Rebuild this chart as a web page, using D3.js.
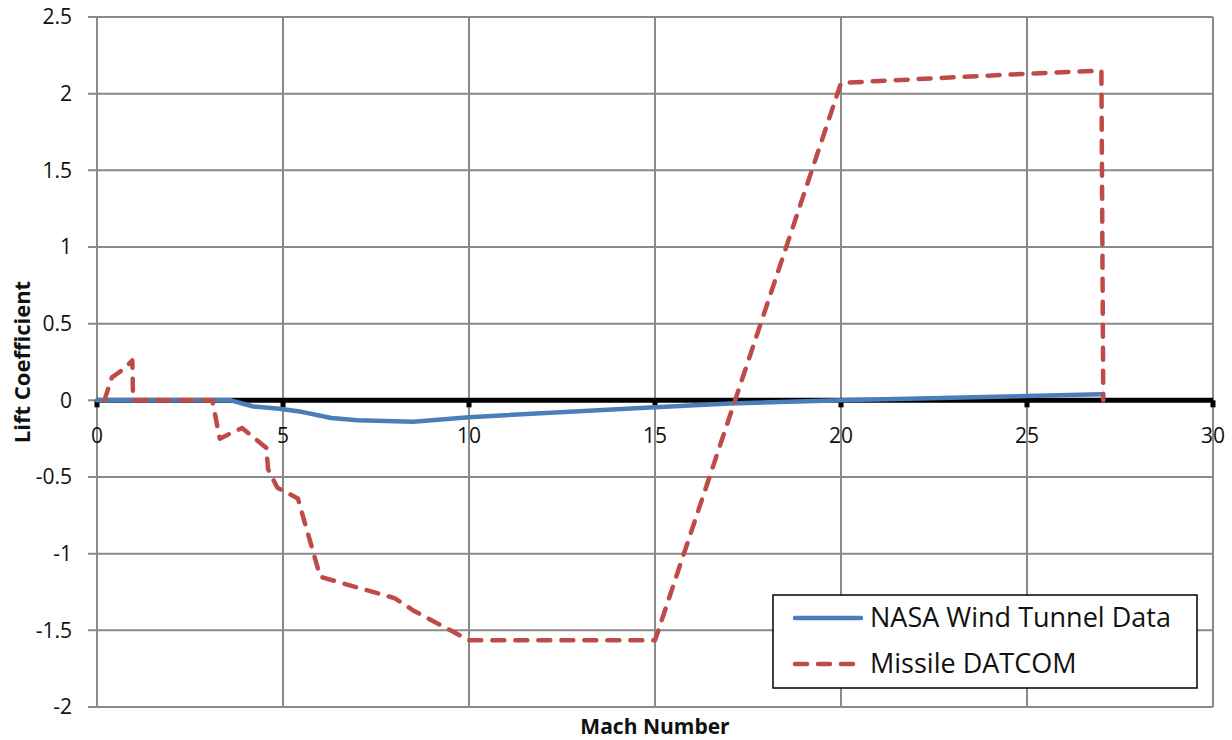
<!DOCTYPE html>
<html>
<head>
<meta charset="utf-8">
<script src="https://cdn.jsdelivr.net/npm/d3@7"></script>
<style>
  body { margin: 0; background: #fff; }
  svg { display: block; font-family: "Open Sans", "Liberation Sans", sans-serif; }
</style>
</head>
<body>
<div id="chart"></div>
<script>
// Mach number vs lift coefficient
const nasaMach = [0, 3.6, 4.2, 4.9, 5.5, 6.3, 7.0, 8.5, 10, 15, 17, 20, 27];
const nasaLift = [0, 0, -0.04, -0.055, -0.075, -0.115, -0.13, -0.14, -0.11, -0.045, -0.02, 0, 0.04];

const datcomMach = [0.2, 0.4, 0.7, 0.95, 0.97, 3.1, 3.3, 3.9, 4.55, 4.6, 4.85, 5.4, 6.0, 6.7, 8.0, 8.5, 10, 15, 20, 25, 27, 27.05];
const datcomLift = [0, 0.15, 0.2, 0.26, 0, 0, -0.25, -0.18, -0.31, -0.45, -0.57, -0.64, -1.15, -1.2, -1.29, -1.37, -1.565, -1.565, 2.07, 2.13, 2.15, 0];

const xTicks = [0, 5, 10, 15, 20, 25, 30];
const yTicks = [-2, -1.5, -1, -0.5, 0, 0.5, 1, 1.5, 2, 2.5];

const seriesNames = ['NASA Wind Tunnel Data', 'Missile DATCOM'];

const width = 1232, height = 740;
const margin = {top: 17, right: 19, bottom: 33, left: 97};
const w = width - margin.left - margin.right;
const h = height - margin.top - margin.bottom;

const svg = d3.select('#chart').append('svg')
    .attr('width', width)
    .attr('height', height);

const g = svg.append('g')
    .attr('transform', 'translate(' + margin.left + ',' + margin.top + ')');

const x = d3.scaleLinear().domain([0, 30]).range([0, w]);
const y = d3.scaleLinear().domain([-2, 2.5]).range([h, 0]);

// gridlines
g.append('g')
    .selectAll('line')
    .data(yTicks)
    .join('line')
    .attr('x1', -9).attr('x2', w)
    .attr('y1', d => y(d)).attr('y2', d => y(d))
    .attr('stroke', '#8a8a8a')
    .attr('stroke-width', 2);

g.append('g')
    .selectAll('line')
    .data(xTicks)
    .join('line')
    .attr('x1', d => x(d)).attr('x2', d => x(d))
    .attr('y1', 0).attr('y2', h)
    .attr('stroke', '#8a8a8a')
    .attr('stroke-width', 2);

// y tick labels (plain hyphen, like the original)
g.append('g')
    .selectAll('text')
    .data(yTicks)
    .join('text')
    .attr('x', -25)
    .attr('y', d => y(d))
    .attr('dy', '0.35em')
    .attr('text-anchor', 'end')
    .attr('font-size', 21)
    .attr('fill', '#111')
    .text(d => String(d));

// zero axis with ticks
g.append('line')
    .attr('x1', 0).attr('x2', w)
    .attr('y1', y(0)).attr('y2', y(0))
    .attr('stroke', '#000')
    .attr('stroke-width', 5);

g.append('g')
    .selectAll('rect')
    .data(xTicks)
    .join('rect')
    .attr('x', d => x(d) - 2.5)
    .attr('y', y(0))
    .attr('width', 5)
    .attr('height', 7)
    .attr('fill', '#000');

g.append('g')
    .selectAll('text')
    .data(xTicks)
    .join('text')
    .attr('x', d => x(d))
    .attr('y', y(0) + 35)
    .attr('dy', '0.35em')
    .attr('text-anchor', 'middle')
    .attr('font-size', 21)
    .attr('fill', '#111')
    .text(d => d);

// series
const line = d3.line()
    .x(d => x(d[0]))
    .y(d => y(d[1]));

const nasa = nasaMach.map((m, i) => [m, nasaLift[i]]);
const datcom = datcomMach.map((m, i) => [m, datcomLift[i]]);

g.append('path')
    .datum(nasa)
    .attr('fill', 'none')
    .attr('stroke', '#4a7ebb')
    .attr('stroke-width', 4.5)
    .attr('stroke-linejoin', 'round')
    .attr('stroke-linecap', 'round')
    .attr('d', line);

g.append('path')
    .datum(datcom)
    .attr('fill', 'none')
    .attr('stroke', '#be4b48')
    .attr('stroke-width', 4.5)
    .attr('stroke-linejoin', 'round')
    .attr('stroke-linecap', 'round')
    .attr('stroke-dasharray', '12,11')
    .attr('d', line);

// axis titles
svg.append('text')
    .attr('transform', 'translate(22,362) rotate(-90)')
    .attr('text-anchor', 'middle')
    .attr('dy', '0.35em')
    .attr('font-size', 22)
    .attr('font-weight', 'bold')
    .attr('fill', '#111')
    .text('Lift Coefficient');

svg.append('text')
    .attr('x', margin.left + w / 2)
    .attr('y', 727)
    .attr('dy', '0.35em')
    .attr('text-anchor', 'middle')
    .attr('font-size', 21)
    .attr('font-weight', 'bold')
    .attr('fill', '#111')
    .text('Mach Number');

// legend
const legend = svg.append('g').attr('transform', 'translate(773,595)');
legend.append('rect')
    .attr('width', 424).attr('height', 93)
    .attr('fill', '#fff')
    .attr('stroke', '#000')
    .attr('stroke-width', 1.5);

const legendStyles = [
    {color: '#4a7ebb', dash: null},
    {color: '#be4b48', dash: '12,11'}
];

seriesNames.forEach((name, i) => {
    const ly = 23 + i * 46;
    legend.append('line')
        .attr('x1', 22).attr('x2', 88)
        .attr('y1', ly).attr('y2', ly)
        .attr('stroke', legendStyles[i].color)
        .attr('stroke-width', 4.5)
        .attr('stroke-linecap', 'round')
        .attr('stroke-dasharray', legendStyles[i].dash);
    legend.append('text')
        .attr('x', 97)
        .attr('y', ly)
        .attr('dy', '0.35em')
        .attr('font-size', 27)
        .attr('fill', '#111')
        .text(name);
});
</script>
</body>
</html>
